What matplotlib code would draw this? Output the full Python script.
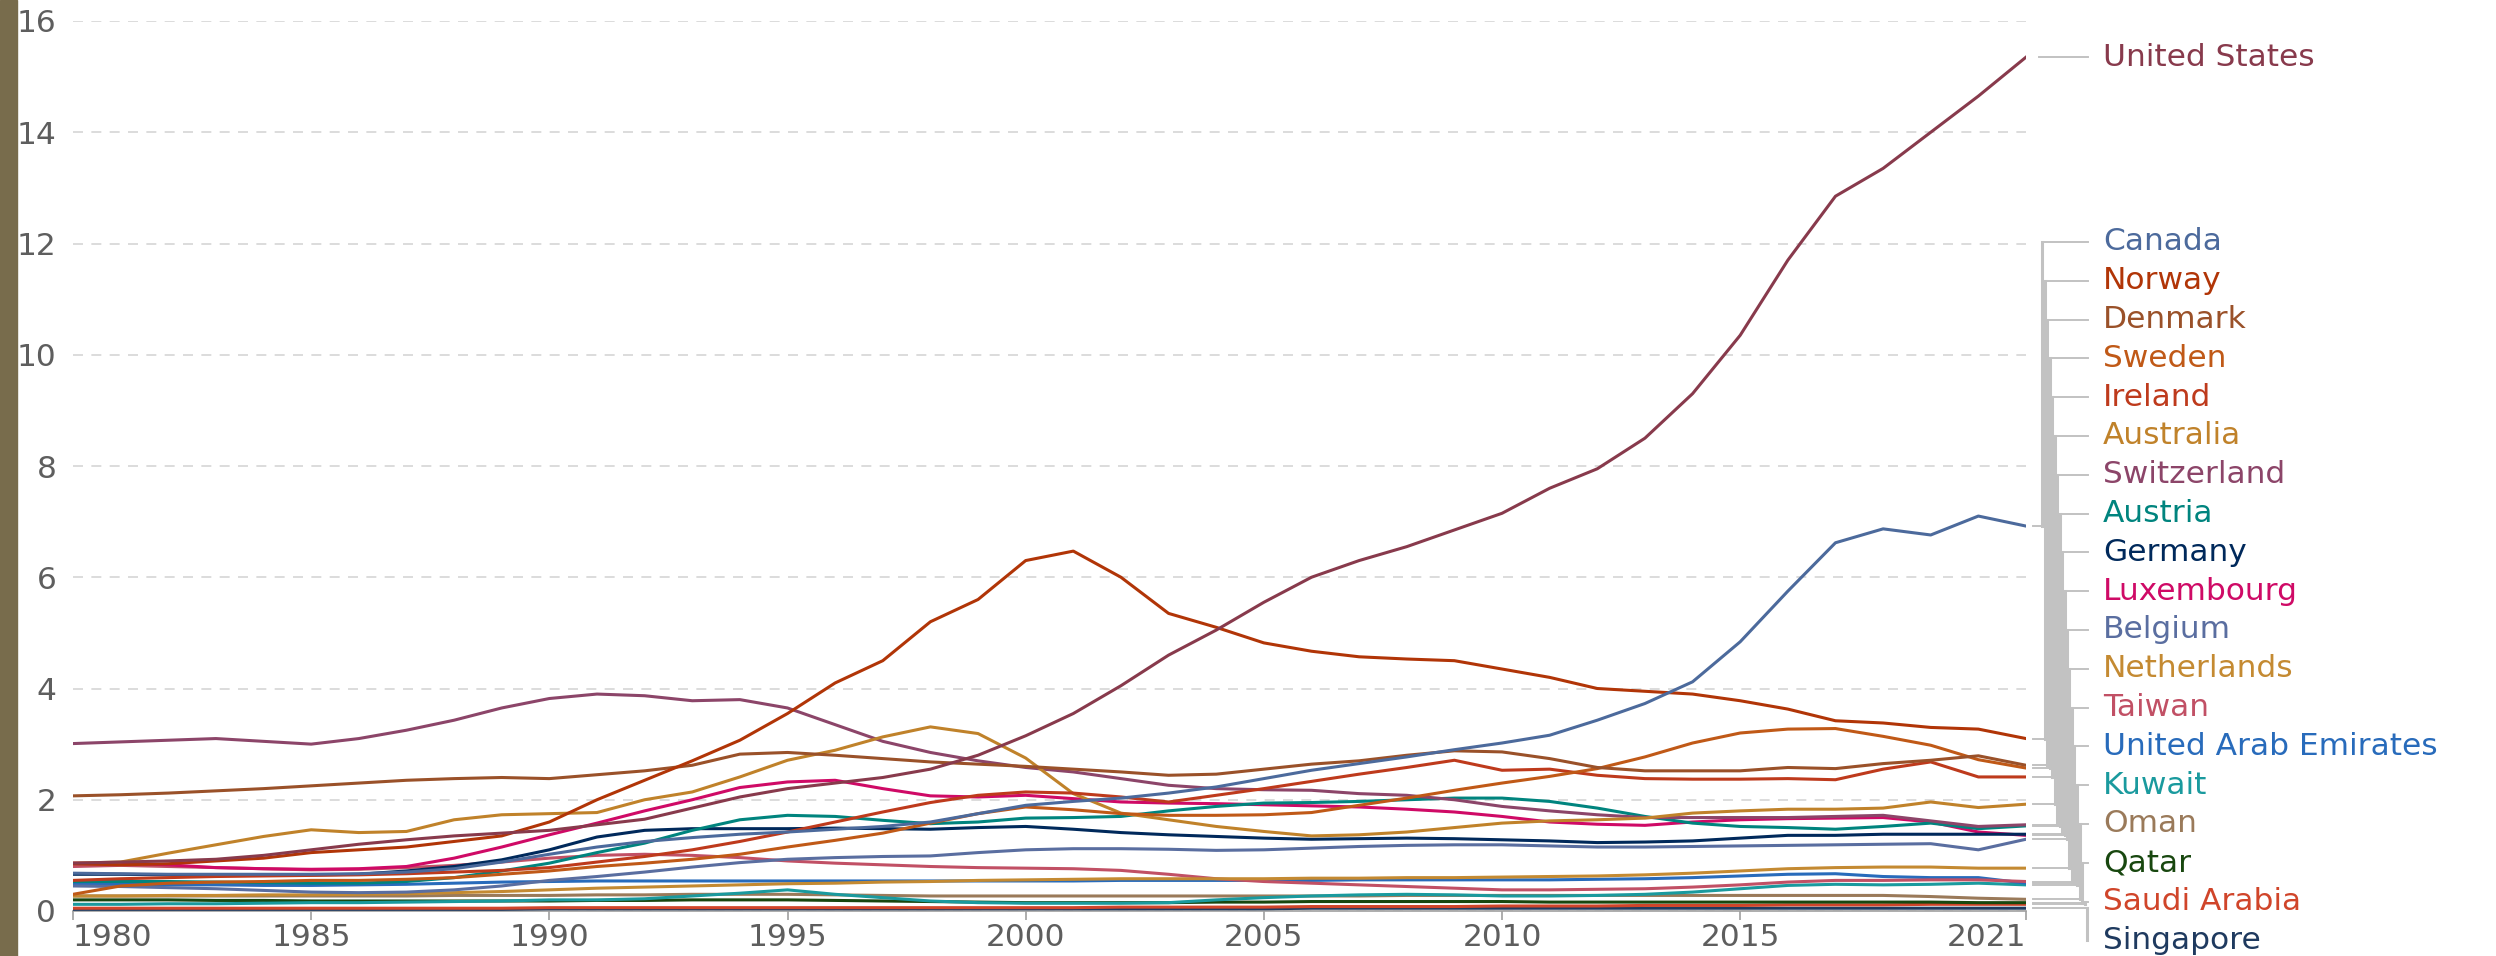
import matplotlib
matplotlib.use("Agg")
import matplotlib.pyplot as plt
from matplotlib.patches import Rectangle
from matplotlib.lines import Line2D

years = list(range(1980, 2022))

united_states = [0.86, 0.88, 0.90, 0.93, 1.00, 1.10, 1.20, 1.28, 1.35, 1.40, 1.45, 1.55, 1.65, 1.85, 2.05, 2.20, 2.30, 2.40, 2.55, 2.80,
                 3.15, 3.55, 4.05, 4.60, 5.05, 5.55, 6.00, 6.30, 6.55, 6.85, 7.15, 7.60, 7.95, 8.50, 9.30, 10.35, 11.70, 12.85, 13.35, 14.00,
                 14.65, 15.35]
canada = [0.68, 0.67, 0.66, 0.66, 0.66, 0.66, 0.67, 0.70, 0.76, 0.88, 1.02, 1.15, 1.25, 1.32, 1.38, 1.42, 1.47, 1.52, 1.60, 1.75,
          1.90, 1.97, 2.03, 2.12, 2.23, 2.38, 2.53, 2.65, 2.77, 2.90, 3.02, 3.16, 3.43, 3.73, 4.12, 4.84, 5.75, 6.62, 6.87, 6.76,
          7.10, 6.92]
norway = [0.85, 0.83, 0.85, 0.90, 0.95, 1.05, 1.10, 1.15, 1.25, 1.35, 1.60, 2.00, 2.35, 2.70, 3.07, 3.55, 4.10, 4.50, 5.20, 5.60,
          6.30, 6.47, 6.00, 5.35, 5.10, 4.82, 4.67, 4.57, 4.53, 4.50, 4.35, 4.20, 4.00, 3.95, 3.90, 3.78, 3.63, 3.42, 3.38, 3.30,
          3.27, 3.10]
denmark = [2.07, 2.09, 2.12, 2.16, 2.20, 2.25, 2.30, 2.35, 2.38, 2.40, 2.38, 2.45, 2.52, 2.62, 2.82, 2.85, 2.80, 2.74, 2.68, 2.64,
           2.60, 2.55, 2.50, 2.44, 2.46, 2.55, 2.64, 2.70, 2.80, 2.88, 2.86, 2.74, 2.58, 2.52, 2.52, 2.52, 2.58, 2.56, 2.65, 2.71,
           2.79, 2.62]
sweden = [0.30, 0.45, 0.50, 0.52, 0.53, 0.55, 0.55, 0.57, 0.60, 0.66, 0.72, 0.80, 0.86, 0.93, 1.02, 1.15, 1.27, 1.40, 1.58, 1.75,
          1.87, 1.82, 1.75, 1.72, 1.72, 1.73, 1.77, 1.90, 2.03, 2.17, 2.30, 2.42, 2.56, 2.77, 3.02, 3.20, 3.27, 3.28, 3.14, 2.98,
          2.72, 2.57]
ireland = [0.55, 0.58, 0.60, 0.62, 0.63, 0.64, 0.65, 0.67, 0.70, 0.73, 0.78, 0.88, 0.98, 1.10, 1.25, 1.42, 1.60, 1.78, 1.95, 2.08,
           2.14, 2.12, 2.05, 1.96, 2.08, 2.20, 2.33, 2.46, 2.58, 2.71, 2.53, 2.55, 2.44, 2.38, 2.37, 2.37, 2.38, 2.36, 2.55, 2.68,
           2.41, 2.41]
australia = [0.86, 0.88, 1.04, 1.19, 1.34, 1.46, 1.41, 1.43, 1.64, 1.73, 1.75, 1.77, 2.00, 2.14, 2.41, 2.71, 2.89, 3.13, 3.31, 3.19,
             2.75, 2.11, 1.76, 1.64, 1.52, 1.43, 1.35, 1.37, 1.42, 1.50, 1.58, 1.62, 1.64, 1.67, 1.76, 1.80, 1.83, 1.83, 1.85, 1.96,
             1.86, 1.92]
switzerland = [3.01, 3.04, 3.07, 3.10, 3.05, 3.00, 3.10, 3.25, 3.43, 3.65, 3.82, 3.90, 3.87, 3.78, 3.80, 3.65, 3.35, 3.05, 2.85, 2.70,
               2.58, 2.50, 2.38, 2.26, 2.20, 2.18, 2.17, 2.11, 2.08, 2.00, 1.88, 1.80, 1.73, 1.68, 1.68, 1.68, 1.68, 1.70, 1.72, 1.62,
               1.52, 1.55]
austria = [0.53, 0.53, 0.53, 0.52, 0.51, 0.50, 0.50, 0.53, 0.60, 0.72, 0.86, 1.05, 1.22, 1.45, 1.64, 1.72, 1.70, 1.63, 1.57, 1.60,
           1.67, 1.68, 1.70, 1.80, 1.88, 1.94, 1.95, 1.97, 2.00, 2.03, 2.03, 1.97, 1.85, 1.70, 1.58, 1.52, 1.50, 1.47, 1.52, 1.58,
           1.48, 1.53]
germany = [0.66, 0.66, 0.65, 0.65, 0.65, 0.65, 0.66, 0.72, 0.80, 0.92, 1.10, 1.33, 1.45, 1.48, 1.48, 1.48, 1.49, 1.48, 1.47, 1.50,
           1.52, 1.47, 1.41, 1.37, 1.34, 1.31, 1.29, 1.30, 1.31, 1.30, 1.28, 1.26, 1.23, 1.24, 1.26, 1.31, 1.36, 1.36, 1.38, 1.38,
           1.38, 1.38]
luxembourg = [0.86, 0.86, 0.83, 0.78, 0.76, 0.75, 0.76, 0.80, 0.95, 1.15, 1.37, 1.58, 1.80, 2.00, 2.22, 2.32, 2.35, 2.20, 2.07, 2.05,
              2.08, 2.02, 1.96, 1.94, 1.93, 1.91, 1.89, 1.87, 1.83, 1.78, 1.70, 1.60, 1.56, 1.54, 1.60, 1.64, 1.66, 1.67, 1.68, 1.60,
              1.42, 1.36]
belgium = [0.45, 0.44, 0.42, 0.40, 0.37, 0.34, 0.33, 0.34, 0.38, 0.45, 0.55, 0.62, 0.70, 0.79, 0.87, 0.93, 0.96, 0.98, 0.99, 1.05,
           1.10, 1.12, 1.12, 1.11, 1.09, 1.10, 1.13, 1.16, 1.18, 1.19, 1.19, 1.17, 1.15, 1.15, 1.16, 1.17, 1.18, 1.19, 1.20, 1.21,
           1.10, 1.29]
netherlands = [0.27, 0.27, 0.28, 0.28, 0.29, 0.29, 0.30, 0.31, 0.33, 0.35, 0.38, 0.41, 0.43, 0.45, 0.47, 0.49, 0.50, 0.52, 0.53, 0.55,
               0.56, 0.57, 0.58, 0.58, 0.58, 0.58, 0.59, 0.59, 0.60, 0.60, 0.61, 0.62, 0.63, 0.65, 0.68, 0.72, 0.76, 0.78, 0.79, 0.79,
               0.77, 0.77]
taiwan = [0.80, 0.82, 0.80, 0.78, 0.76, 0.74, 0.75, 0.78, 0.82, 0.88, 0.95, 1.00, 1.02, 1.00, 0.96, 0.90, 0.86, 0.83, 0.80, 0.78,
          0.77, 0.76, 0.73, 0.66, 0.58, 0.53, 0.50, 0.47, 0.44, 0.41, 0.38, 0.38, 0.39, 0.40, 0.43, 0.47, 0.52, 0.55, 0.55, 0.56,
          0.56, 0.53]
uae = [0.48, 0.48, 0.47, 0.47, 0.46, 0.46, 0.47, 0.48, 0.50, 0.52, 0.53, 0.54, 0.54, 0.54, 0.54, 0.54, 0.54, 0.54, 0.54, 0.54,
       0.54, 0.54, 0.55, 0.55, 0.55, 0.55, 0.55, 0.56, 0.56, 0.56, 0.56, 0.56, 0.57, 0.58, 0.60, 0.63, 0.66, 0.67, 0.62, 0.60,
       0.60, 0.50]
kuwait = [0.12, 0.12, 0.13, 0.13, 0.14, 0.15, 0.15, 0.16, 0.17, 0.18, 0.20, 0.20, 0.22, 0.27, 0.32, 0.38, 0.30, 0.24, 0.18, 0.15,
          0.14, 0.14, 0.14, 0.15, 0.20, 0.24, 0.27, 0.29, 0.30, 0.29, 0.27, 0.27, 0.28, 0.30, 0.34, 0.40, 0.46, 0.48, 0.47, 0.48,
          0.50, 0.47]
oman = [0.27, 0.27, 0.27, 0.27, 0.27, 0.27, 0.27, 0.27, 0.28, 0.28, 0.28, 0.29, 0.29, 0.30, 0.30, 0.30, 0.29, 0.28, 0.27, 0.27,
        0.27, 0.27, 0.27, 0.27, 0.27, 0.27, 0.27, 0.27, 0.28, 0.28, 0.28, 0.28, 0.28, 0.28, 0.28, 0.28, 0.28, 0.28, 0.28, 0.26,
        0.23, 0.21]
qatar = [0.20, 0.20, 0.20, 0.19, 0.19, 0.18, 0.18, 0.18, 0.18, 0.18, 0.18, 0.19, 0.19, 0.20, 0.20, 0.20, 0.19, 0.18, 0.17, 0.16,
         0.15, 0.15, 0.15, 0.15, 0.16, 0.16, 0.17, 0.17, 0.17, 0.17, 0.17, 0.16, 0.16, 0.16, 0.16, 0.16, 0.16, 0.16, 0.16, 0.16,
         0.15, 0.15]
saudi_arabia = [0.05, 0.05, 0.05, 0.05, 0.05, 0.05, 0.05, 0.05, 0.05, 0.05, 0.06, 0.06, 0.06, 0.06, 0.06, 0.06, 0.06, 0.06, 0.06, 0.06,
                0.06, 0.06, 0.07, 0.07, 0.07, 0.07, 0.08, 0.08, 0.08, 0.08, 0.09, 0.09, 0.09, 0.10, 0.10, 0.10, 0.11, 0.11, 0.11, 0.12,
                0.12, 0.12]
singapore = [0.03, 0.03, 0.03, 0.03, 0.03, 0.03, 0.03, 0.03, 0.03, 0.03, 0.04, 0.04, 0.04, 0.04, 0.04, 0.04, 0.04, 0.04, 0.04, 0.04,
             0.04, 0.04, 0.04, 0.04, 0.04, 0.04, 0.05, 0.05, 0.05, 0.05, 0.05, 0.05, 0.05, 0.05, 0.05, 0.05, 0.05, 0.05, 0.05, 0.05,
             0.05, 0.05]

names = ["United States", "Canada", "Norway", "Denmark", "Sweden", "Ireland", "Australia", "Switzerland", "Austria",
         "Germany", "Luxembourg", "Belgium", "Netherlands", "Taiwan", "United Arab Emirates", "Kuwait", "Oman",
         "Qatar", "Saudi Arabia", "Singapore"]
colors = ["#883A4C", "#4C6A9C", "#B13507", "#9A5129", "#C05917", "#BE3A1C", "#C0822A", "#8C4569", "#00847E",
          "#00295B", "#CF0A66", "#5A6EA0", "#C48A32", "#C15065", "#286BBB", "#1A9A9E", "#9A7A5A",
          "#18470F", "#D0452A", "#1F3A5F"]
series = [united_states, canada, norway, denmark, sweden, ireland, australia, switzerland, austria,
          germany, luxembourg, belgium, netherlands, taiwan, uae, kuwait, oman, qatar, saudi_arabia, singapore]

W, H = 2496, 956
fig = plt.figure(figsize=(W / 100, H / 100), dpi=100)
fig.patch.set_facecolor("white")
X0, X1, Y0, Y1 = 73, 2026, 911, 21
ax = fig.add_axes([X0 / W, (H - Y0) / H, (X1 - X0) / W, (Y0 - Y1) / H])
ax.set_xlim(1980, 2021)
ax.set_ylim(0, 16)

def px_x(px):
    return 1980 + (px - X0) * 41 / (X1 - X0)

def px_y(py):
    return (Y0 - py) * 16 / (Y0 - Y1)

for data, col in reversed(list(zip(series, colors))):
    ax.plot(years, data, color=col, lw=2.2, solid_joinstyle="round", zorder=3)

for s in ["top", "right", "left"]:
    ax.spines[s].set_visible(False)
ax.spines["bottom"].set_color("#a0a0a0")
ax.spines["bottom"].set_linewidth(1.2)

ax.set_yticks(range(0, 17, 2))
ax.set_yticklabels([str(v) for v in range(0, 17, 2)])
ax.yaxis.grid(True, linestyle=(0, (6, 5)), color="#d6d6d6", lw=1.2)
ax.set_axisbelow(True)
ax.tick_params(axis="y", length=0, pad=12, labelsize=22.5, labelcolor="#5e5e5e")

xt = [1980, 1985, 1990, 1995, 2000, 2005, 2010, 2015, 2021]
ax.set_xticks(xt)
ax.set_xticklabels([str(v) for v in xt])
ax.tick_params(axis="x", length=6.5, width=1.2, color="#a0a0a0", pad=2, labelsize=22.5, labelcolor="#5e5e5e")
lbls = ax.get_xticklabels()
lbls[0].set_ha("left")
lbls[-1].set_ha("right")

conn = "#c2c2c2"
FS = 22.5
# United States label
us_y = united_states[-1]
ax.add_line(Line2D([px_x(2039), px_x(2088)], [us_y, us_y], color=conn, lw=1.4, clip_on=False))
ax.text(px_x(2103), us_y, names[0], color=colors[0], fontsize=FS, va="center", ha="left", clip_on=False)

for i in range(1, len(names)):
    k = i - 1
    ly = px_y(242 + k * 38.8)
    xm = px_x(2042 + k * 2.5)
    ev = series[i][-1]
    ax.add_line(Line2D([px_x(2033), xm], [ev, ev], color=conn, lw=1.4, clip_on=False, zorder=1))
    ax.add_line(Line2D([xm, xm], [ev, ly], color=conn, lw=2.2, clip_on=False, zorder=1))
    ax.add_line(Line2D([xm, px_x(2088)], [ly, ly], color=conn, lw=1.4, clip_on=False, zorder=1))
    ax.text(px_x(2103), ly, names[i], color=colors[i], fontsize=FS, va="center", ha="left", clip_on=False)

fig.patches.append(Rectangle((0, 0), 17 / W, 1, transform=fig.transFigure, color="#786c4c", zorder=10))

fig.savefig("out.png", dpi=100, facecolor="white")
